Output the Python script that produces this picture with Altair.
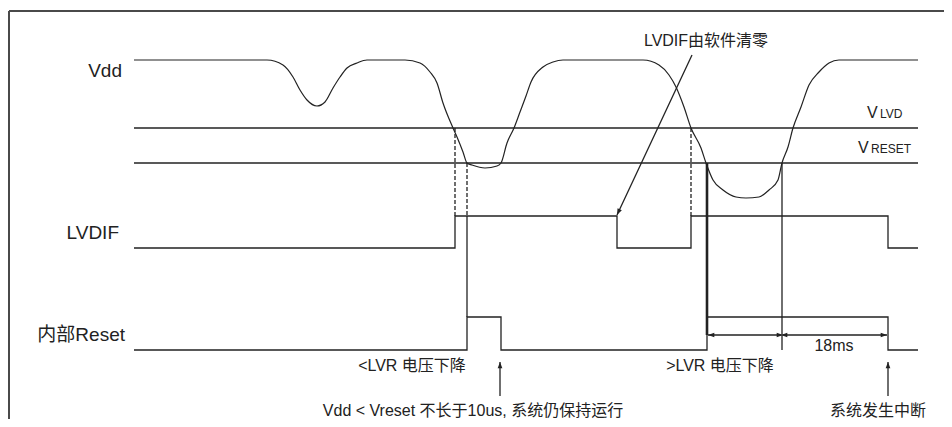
import math
import altair as alt
import pandas as pd

# ---------------- data (time axis t, level axis v, units of the original drawing) ----------------
vdd_t = [134, 267, 283, 293, 300, 307, 317, 325, 333, 340, 347, 357, 367,
         405, 420, 430, 437, 443, 453, 457, 463, 467, 472, 485, 497, 501, 507, 514, 520, 526, 531, 543, 553, 563,
         643, 659, 669, 676, 684, 691, 701, 706, 713, 723, 736, 746, 759, 769, 778, 782, 788, 793, 801, 809,
         819, 829, 839, 918]
vdd_v = [60, 60, 65, 77, 90, 100, 106, 102, 88, 77, 68, 63, 60,
         60, 63, 72, 83, 103, 128, 137, 152, 163, 165, 168, 166, 163, 143, 128, 112, 96, 82, 67, 62, 60,
         60, 65, 75, 87, 107, 128, 148, 163, 180, 190, 197, 198, 197, 190, 180, 163, 147, 128, 107, 85,
         72, 63, 60, 60]

vlvd_t = [134, 918]
vlvd_v = [128, 128]
vreset_t = [134, 918]
vreset_v = [163, 163]

lvdif_t = [134, 455, 455, 617, 617, 691, 691, 888, 888, 918]
lvdif_v = [248, 248, 216, 216, 248, 248, 216, 216, 248, 248]
reset_t = [134, 467, 467, 501, 501, 707, 707, 888, 888, 918]
reset_v = [350, 350, 317, 317, 350, 350, 317, 317, 350, 350]

# vertical marker lines
marker_solid_t = [[467, 467], [782, 782]]
marker_solid_v = [[216, 317], [163, 350]]
marker_dash_t = [[455, 455], [467, 467], [691, 691]]
marker_dash_v = [[128, 216], [163, 216], [128, 216]]
marker_thick_t = [[707, 707]]
marker_thick_v = [[163, 335]]

# dimension lines (18ms)
dim_t = [[708, 781], [783, 887]]
dim_v = [[335, 335], [335, 335]]

# annotation arrows: (tail t, tail v) -> (tip t, tip v)
arrow_tail_t = [692, 500, 888, 782, 782, 782, 782]
arrow_tail_v = [55, 396, 396, 335, 335, 335, 335]
arrow_tip_t = [617, 500, 888, 708, 781, 783, 887]
arrow_tip_v = [215, 362, 362, 335, 335, 335, 335]

# frame (top edge, left edge)
frame_t = [9, 9]
frame_t2 = [944, 9]
frame_v = [11, 11]
frame_v2 = [11, 419]

# labels
right_text = ["Vdd", "LVDIF", "内部Reset"]
right_t = [122, 119, 125]
right_v = [77, 239, 341]

center_text = ["LVDIF由软件清零", "<LVR 电压下降", ">LVR 电压下降",
               "Vdd < Vreset 不长于10us, 系统仍保持运行", "系统发生中断", "18ms"]
center_t = [706, 412, 720, 473, 878, 834]
center_v = [46, 371, 371, 416, 416, 351]

sub_main_text = ["V", "V"]
sub_main_t = [867, 858]
sub_main_v = [118, 153]
sub_small_text = ["LVD", "RESET"]
sub_small_t = [880, 871]
sub_small_v = [118, 153]

# ---------------- build ----------------
INK = "#222222"
FONT = "Liberation Sans, Arial, Noto Sans CJK SC, sans-serif"

xs = alt.Scale(domain=[8, 944], nice=False, zero=False)
ys = alt.Scale(domain=[8, 419], nice=False, zero=False, reverse=True)
X = alt.X("t:Q", scale=xs, axis=None)
Y = alt.Y("v:Q", scale=ys, axis=None)


def segs_df(ts_list, vs_list):
    rows = []
    for k, (ts, vs) in enumerate(zip(ts_list, vs_list)):
        for i, (t, v) in enumerate(zip(ts, vs)):
            rows.append({"seg": k, "i": i, "t": t, "v": v})
    return pd.DataFrame(rows)


def line_layer(df, color=INK, **kw):
    return alt.Chart(df).mark_line(color=color, **kw).encode(
        x=X, y=Y, detail="seg:N", order="i:Q")


solid_df = segs_df(
    [vlvd_t, vreset_t, lvdif_t, reset_t] + marker_solid_t + dim_t
    + [[a, b] for a, b in zip(arrow_tail_t[:3], arrow_tip_t[:3])],
    [vlvd_v, vreset_v, lvdif_v, reset_v] + marker_solid_v + dim_v
    + [[a, b] for a, b in zip(arrow_tail_v[:3], arrow_tip_v[:3])],
)
dash_df = segs_df(marker_dash_t, marker_dash_v)
thick_df = segs_df(marker_thick_t, marker_thick_v)
vdd_df = segs_df([vdd_t], [vdd_v])
frame_df = pd.DataFrame({"t": frame_t, "t2": frame_t2, "v": frame_v, "v2": frame_v2})

# arrowheads: tip position and rotation from the shaft direction
heads = []
for tt, tv, pt, pv in zip(arrow_tail_t, arrow_tail_v, arrow_tip_t, arrow_tip_v):
    dx, dy = pt - tt, pv - tv
    ang = math.degrees(math.atan2(dx, -dy)) % 360
    heads.append({"t": pt, "v": pv, "angle": ang})
heads_df = pd.DataFrame(heads)

ARROW = "M0,0L-0.75,2L0.75,2Z"

layers = [
    alt.Chart(frame_df).mark_rule(color="#4a4a4a", strokeWidth=2).encode(
        x=X, x2="t2:Q", y=Y, y2="v2:Q"),
    line_layer(solid_df, strokeWidth=1.3),
    line_layer(dash_df, strokeWidth=1.3, strokeDash=[4, 2]),
    line_layer(thick_df, strokeWidth=2.6),
    line_layer(vdd_df, strokeWidth=1.2, interpolate="monotone"),
    alt.Chart(heads_df).mark_point(shape=ARROW, filled=True, size=40, color=INK, opacity=1).encode(
        x=X, y=Y, angle=alt.Angle("angle:Q", scale=None)),
]


def text_layer(texts, ts, vs, align, size):
    df = pd.DataFrame({"label": texts, "t": ts, "v": vs})
    return alt.Chart(df).mark_text(align=align, baseline="alphabetic", font=FONT,
                                   fontSize=size, color=INK).encode(x=X, y=Y, text="label:N")


layers += [
    text_layer(right_text, right_t, right_v, "right", 19),
    text_layer(center_text, center_t, center_v, "center", 16),
    text_layer(sub_main_text, sub_main_t, sub_main_v, "left", 16),
    text_layer(sub_small_text, sub_small_t, sub_small_v, "left", 12),
]

chart = alt.layer(*layers).properties(
    width=936, height=411, padding=0,
    autosize=alt.AutoSizeParams(type="none"),
    background="white",
).configure_view(stroke=None)

chart.save("out.html", embed_options={"renderer": "svg", "actions": False})
